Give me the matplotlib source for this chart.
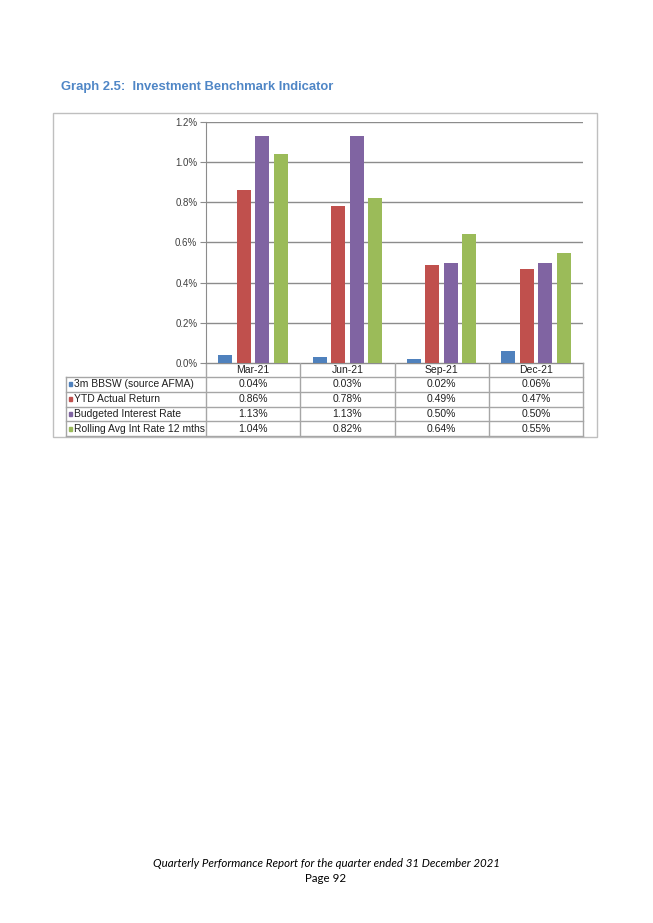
import matplotlib.pyplot as plt
from matplotlib.patches import Rectangle
import numpy as np

quarters = ['Mar-21', 'Jun-21', 'Sep-21', 'Dec-21']
series_names = ['3m BBSW (source AFMA)', 'YTD Actual Return',
                'Budgeted Interest Rate', 'Rolling Avg Int Rate 12 mths']
bbsw = [0.04, 0.03, 0.02, 0.06]
ytd_return = [0.86, 0.78, 0.49, 0.47]
budgeted = [1.13, 1.13, 0.50, 0.50]
rolling_avg = [1.04, 0.82, 0.64, 0.55]
colors = ['#4F81BD', '#C0504D', '#8064A2', '#9BBB59']

W, H = 653, 923
fig = plt.figure(figsize=(W / 100, H / 100), dpi=100)
plt.rcParams['font.family'] = ['Liberation Sans', 'DejaVu Sans']


def px_axes(x0, y0, x1, y1, **kw):
    # pixel box (top-left origin) -> figure axes
    return fig.add_axes([x0 / W, 1 - y1 / H, (x1 - x0) / W, (y1 - y0) / H], **kw)


# background layer in pixel coordinates
bg = px_axes(0, 0, W, H)
bg.set_xlim(0, W)
bg.set_ylim(H, 0)
bg.axis('off')

bg.add_patch(Rectangle((53, 112.5), 544, 324, fill=False, ec='#BFBFBF', lw=1))
bg.text(61, 87, 'Graph 2.5:  Investment Benchmark Indicator', color='#4F86C6',
        fontsize=9.4, fontweight='bold', va='center', ha='left')
bg.text(326, 863.5, 'Quarterly Performance Report for the quarter ended 31 December 2021',
        family=['Lato', 'DejaVu Sans'], style='italic', fontsize=8.3, ha='center', va='center')
bg.text(326, 878.5, 'Page 92', family=['Lato', 'DejaVu Sans'], fontsize=8.3,
        ha='center', va='center')

# bar chart
px0, px1 = 205.7, 583.3
py0, py1 = 122.3, 362.7
ax = px_axes(px0, py0, px1, py1)
all_series = [bbsw, ytd_return, budgeted, rolling_avg]
x = np.arange(len(quarters))
width = 0.148
step = 0.196
for i, (vals, c) in enumerate(zip(all_series, colors)):
    ax.bar(x + (i - 1.5) * step, vals, width=width, color=c, zorder=3)

ax.set_xlim(-0.5, len(quarters) - 0.5)
ax.set_ylim(0, 1.2)
ax.set_yticks(np.arange(0, 1.21, 0.2))
ax.set_yticklabels(['%.1f%%' % v for v in np.arange(0, 1.21, 0.2)], fontsize=7, color='#404040')
ax.set_xticks([])
ax.yaxis.grid(True, color='#8C8C8C', lw=1, zorder=0)
ax.tick_params(axis='y', length=4, width=0.8, color='#8C8C8C', pad=2)
for s in ['top', 'right', 'bottom']:
    ax.spines[s].set_visible(False)
ax.spines['left'].set_color('#8C8C8C')

# data table below the chart
rows_y = [362.7, 376.7, 391.7, 406.5, 421.2, 436]
col_w = (px1 - px0) / len(quarters)
line_c = '#A6A6A6'
bg.plot([px0, px1], [rows_y[0], rows_y[0]], color='#8C8C8C', lw=1)
for y in rows_y[1:]:
    bg.plot([66, px1], [y, y], color=line_c, lw=1)
bg.plot([66, 66], [rows_y[1], rows_y[-1]], color=line_c, lw=1)
for j in range(len(quarters) + 1):
    xx = px0 + j * col_w
    bg.plot([xx, xx], [rows_y[0], rows_y[-1]], color=line_c, lw=1)

for j, q in enumerate(quarters):
    bg.text(px0 + (j + 0.5) * col_w, (rows_y[0] + rows_y[1]) / 2, q,
            fontsize=7.5, ha='center', va='center', color='#202020')
for i, (name, vals, c) in enumerate(zip(series_names, all_series, colors)):
    yc = (rows_y[i + 1] + rows_y[i + 2]) / 2
    bg.add_patch(Rectangle((68.5, yc - 2), 3.5, 4, color=c))
    bg.text(74, yc, name, fontsize=7.5, ha='left', va='center', color='#202020')
    for j, v in enumerate(vals):
        bg.text(px0 + (j + 0.5) * col_w, yc, '%.2f%%' % v,
                fontsize=7.5, ha='center', va='center', color='#202020')

fig.savefig('out.png', dpi=100)
